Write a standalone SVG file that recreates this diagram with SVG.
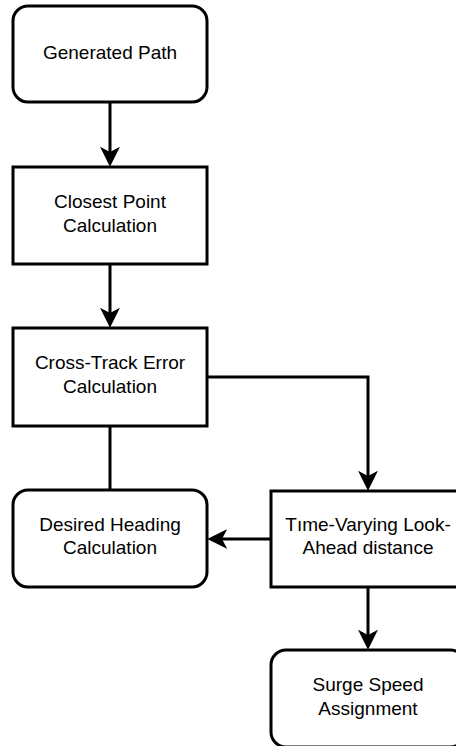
<svg xmlns="http://www.w3.org/2000/svg" width="456" height="746" viewBox="0 0 456 746">
  <style>
    .box { fill: #ffffff; stroke: #000000; stroke-width: 3; }
    .edge { fill: none; stroke: #000000; stroke-width: 3; }
    .label { font-family: "Liberation Sans", Arial, Helvetica, sans-serif; font-size: 19px; fill: #000000; text-anchor: middle; }
  </style>
  <defs>
    <!-- classic arrowhead; refX sits on the notch so the line ends hidden inside it -->
    <marker id="arrow" markerUnits="userSpaceOnUse" markerWidth="20" markerHeight="20" viewBox="0 0 19 19" refX="5" refY="9.5" orient="auto">
      <path d="M0,0 L19,9.5 L0,19 L5,9.5 Z" fill="#000000"/>
    </marker>
  </defs>
  <rect width="456" height="746" fill="#ffffff"/>

  <g id="connectors">
    <path class="edge" d="M110,102 V152" marker-end="url(#arrow)"/>
    <path class="edge" d="M110,264 V313" marker-end="url(#arrow)"/>
    <path class="edge" d="M207,377 H368 V476" marker-end="url(#arrow)"/>
    <path class="edge" d="M110,426 V490"/>
    <path class="edge" d="M271,539 H222" marker-end="url(#arrow)"/>
    <path class="edge" d="M368,587 V635" marker-end="url(#arrow)"/>
  </g>

  <g id="generated-path">
    <rect class="box" x="13" y="6" width="194" height="96" rx="15" ry="15"/>
    <text class="label" x="110" y="58.5">Generated Path</text>
  </g>

  <g id="closest-point">
    <rect class="box" x="13" y="167" width="194" height="97"/>
    <text class="label" x="110" y="208">Closest Point</text>
    <text class="label" x="110" y="231.5">Calculation</text>
  </g>

  <g id="cross-track-error">
    <rect class="box" x="13" y="328" width="194" height="98"/>
    <text class="label" x="110" y="369">Cross-Track Error</text>
    <text class="label" x="110" y="393">Calculation</text>
  </g>

  <g id="desired-heading">
    <rect class="box" x="13" y="490" width="194" height="97" rx="15" ry="15"/>
    <text class="label" x="110" y="531">Desired Heading</text>
    <text class="label" x="110" y="554">Calculation</text>
  </g>

  <g id="look-ahead">
    <rect class="box" x="271" y="491" width="194" height="96"/>
    <text class="label" x="368" y="531">Tıme-Varying Look-</text>
    <text class="label" x="368" y="554">Ahead distance</text>
  </g>

  <g id="surge-speed">
    <rect class="box" x="271" y="650" width="194" height="97" rx="15" ry="15"/>
    <text class="label" x="368" y="691">Surge Speed</text>
    <text class="label" x="368" y="714.5">Assignment</text>
  </g>
</svg>
